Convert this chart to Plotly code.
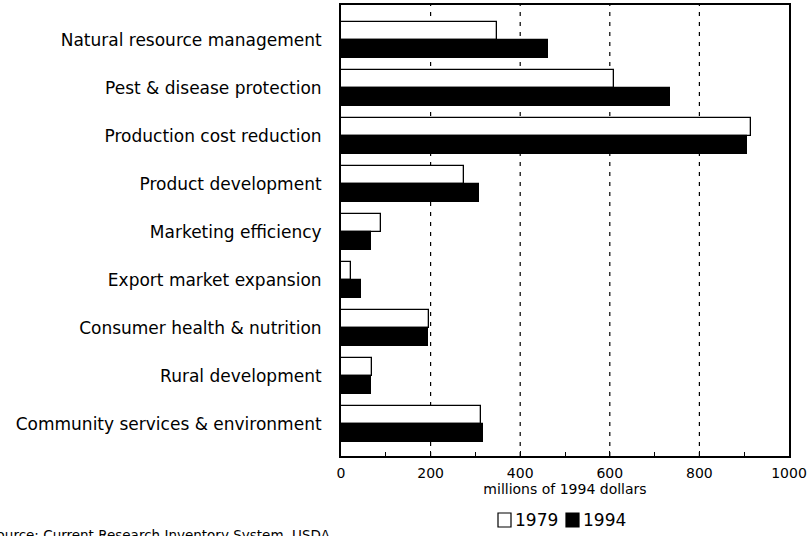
import plotly.graph_objects as go

categories = [
    "Natural resource management",
    "Pest & disease protection",
    "Production cost reduction",
    "Product development",
    "Marketing efficiency",
    "Export market expansion",
    "Consumer health & nutrition",
    "Rural development",
    "Community services & environment",
]
values_1979 = [348, 610, 915, 274, 90, 22, 197, 70, 312]
values_1994 = [462, 735, 906, 309, 67, 45, 195, 67, 316]
x_ticks = [0, 200, 400, 600, 800, 1000]
series_names = ["1979", "1994"]
series_fills = ["white", "black"]

FONT = "DejaVu Sans"
ypos = list(range(len(categories)))

W, H = 811, 536
L, R, T, B = 341, 22, 5, 80
PW, PH = W - L - R, H - T - B


def px_x(p):
    return (p - L) / PW


def px_y(p):
    return (T + PH - p) / PH


fig = go.Figure()
for name, vals, fill, off in zip(series_names, [values_1979, values_1994], series_fills, [-0.375, 0.0]):
    fig.add_trace(go.Bar(
        name=name, y=ypos, x=vals, orientation="h",
        marker=dict(color=fill, line=dict(color="black", width=1.3)),
        offset=off, width=0.375, showlegend=False,
    ))

for v in x_ticks[1:-1]:
    fig.add_vline(x=v, line=dict(color="black", width=1.2, dash="4px,6px"), layer="below")

# legend drawn as boxes + labels below the axis title
legend_box_left = [498, 566]
for name, fill, bx in zip(series_names, series_fills, legend_box_left):
    fig.add_shape(type="rect", xref="paper", yref="paper",
                  x0=px_x(bx), x1=px_x(bx + 13), y0=px_y(527), y1=px_y(513),
                  fillcolor=fill, line=dict(color="black", width=1.2))
    fig.add_annotation(text=name, xref="paper", yref="paper",
                       x=px_x(bx + 15), y=px_y(520), xanchor="left", yanchor="middle",
                       showarrow=False, font=dict(size=17, family=FONT))

fig.update_layout(
    width=W, height=H,
    margin=dict(l=L, r=R, t=T, b=B, autoexpand=False),
    paper_bgcolor="white", plot_bgcolor="white",
    font=dict(family=FONT, color="black", size=15),
    showlegend=False,
    bargap=0, barmode="overlay",
)
fig.update_xaxes(
    range=[0, 1000], tickvals=x_ticks, ticktext=[str(t) for t in x_ticks],
    showgrid=False, zeroline=False, showline=True, linecolor="black", linewidth=2,
    mirror=True, ticks="inside", ticklen=5, tickcolor="black",
    minor=dict(ticks="inside", ticklen=4, dtick=100, tickcolor="black"),
    tickfont=dict(size=14, family=FONT), ticklabelstandoff=3,
    title=dict(text="millions of 1994 dollars", font=dict(size=14, family=FONT), standoff=1),
)
fig.update_yaxes(
    range=[8.67, -0.73], tickvals=ypos, ticktext=categories,
    showgrid=False, zeroline=False, showline=True, linecolor="black", linewidth=2,
    mirror=True, ticks="", tickfont=dict(size=17, family=FONT), ticklabelstandoff=14,
)
fig.add_annotation(
    text="Source: Current Research Inventory System, USDA",
    xref="paper", yref="paper", x=px_x(333), y=px_y(535),
    xanchor="right", yanchor="middle", showarrow=False,
    font=dict(size=13.5, family=FONT),
)
fig.write_html("out.html", config={"displayModeBar": False},
               post_script="document.body.style.margin='0';")
